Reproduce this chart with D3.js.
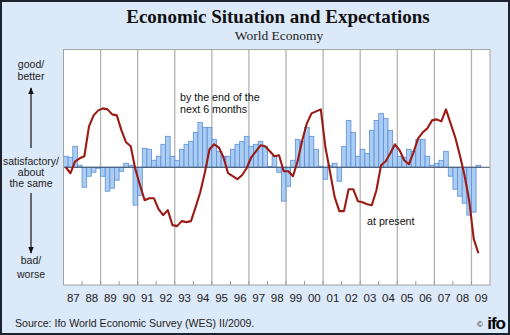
<!DOCTYPE html>
<html>
<head>
<meta charset="utf-8">
<script src="https://cdn.jsdelivr.net/npm/d3@7/dist/d3.min.js"></script>
<style>
  body { margin: 0; background: #fff; }
  svg { display: block; font-family: Arial, "Liberation Sans", sans-serif; }
</style>
</head>
<body>
<svg id="chart" width="510" height="335"></svg>
<script>
// tick labels (one per year) and first year of the quarterly series
var yearLabels = ["87","88","89","90","91","92","93","94","95","96","97","98",
                  "99","00","01","02","03","04","05","06","07","08","09"];
var firstYear = 1987;

// WES world economy, balance values, quarterly I/1987 .. II/2009
// expectations by the end of the next 6 months (bars)
var expectations = [
   11,  10,  21,   2,    // 1987
  -20,  -9,  -5,  -1,    // 1988
   -9, -24, -21, -13,    // 1989
   -4,   4,   2, -38,    // 1990
  -28,  19,  18,   7,    // 1991
   11,  23,  31,  11,    // 1992
    7,  18,  23,  26,    // 1993
   35,  45,  40,  40,    // 1994
   28,  16,  11,  11,    // 1995
   18,  23,  26,  31,    // 1996
   21,  23,  26,  21,    // 1997
    1,  11,  -5, -34,    // 1998
  -19,   7,  28,  26,    // 1999
   40,  31,  18,   1,    // 2000
  -12,   2,   4, -14,    // 2001
   21,  47,  35,  11,    // 2002
   18,  14,  37,  47,    // 2003
   54,  49,  37,  21,    // 2004
   11,  10,  18,  16,    // 2005
   28,  28,  11,   2,    // 2006
    4,   7,  16,  -9,    // 2007
  -22, -29, -36, -48,    // 2008
  -45,   2               // 2009
];

// present economic situation (line)
var present = [
    0,  -6,   6,   9,    // 1987
   11,  41,  52,  57,    // 1988
   59,  58,  53,  52,    // 1989
   37,  25,  21,  -2,    // 1990
  -18, -33, -31, -31,    // 1991
  -42, -48, -43, -58,    // 1992
  -59, -54, -55, -54,    // 1993
  -40, -25,  -5,  18,    // 1994
   23,  20,  10,  -6,    // 1995
   -9, -12,  -8,  -1,    // 1996
   10,  16,  22,  21,    // 1997
   16,  11,  12,  -4,    // 1998
   -4,  -9,   6,  27,    // 1999
   44,  54,  56,  58,    // 2000
   20,  -5, -30, -44,    // 2001
  -44, -22, -22, -34,    // 2002
  -35, -37, -38, -23,    // 2003
    2,   6,  14,  23,    // 2004
   17,   7,   3,  15,    // 2005
   29,  35,  39,  47,    // 2006
   48,  46,  58,  44,    // 2007
   30,  12,  -8, -33,    // 2008
  -72, -86               // 2009
];

var svg = d3.select("#chart"),
    W = 510, H = 335,
    plotL = 63.5, plotR = 490, plotT = 49.5, plotB = 285;

var lastYear = firstYear + yearLabels.length;
var x = d3.scaleLinear().domain([firstYear, lastYear]).range([plotL, plotR]),
    y = d3.scaleLinear().domain([-118, 118]).range([plotB, plotT]);

function qStart(i) { return firstYear + i / 4; }

// background + frame
svg.append("rect").attr("x", 1).attr("y", 1).attr("width", W - 2).attr("height", H - 2)
    .attr("fill", "#dce9f9").attr("stroke", "#1b2230").attr("stroke-width", 2);

// plot area
svg.append("rect").attr("x", plotL).attr("y", plotT)
    .attr("width", plotR - plotL).attr("height", plotB - plotT)
    .attr("fill", "#fff");

// vertical grid every 2 years
var gridYears = d3.range(firstYear + 2, lastYear, 2);
svg.append("g").selectAll("line").data(gridYears).enter().append("line")
    .attr("x1", function(d) { return x(d); }).attr("x2", function(d) { return x(d); })
    .attr("y1", plotT).attr("y2", plotB)
    .attr("stroke", "#b3b3b3").attr("stroke-width", 1.3);

// small ticks on every year at the bottom
svg.append("g").selectAll("line").data(d3.range(firstYear + 1, lastYear)).enter().append("line")
    .attr("x1", function(d) { return x(d); }).attr("x2", function(d) { return x(d); })
    .attr("y1", plotB).attr("y2", plotB - 4)
    .attr("stroke", "#9a9a9a").attr("stroke-width", 1);

// bars
svg.append("g").selectAll("rect").data(expectations).enter().append("rect")
    .attr("x", function(d, i) { return x(qStart(i)); })
    .attr("width", function(d, i) { return x(qStart(i + 1)) - x(qStart(i)); })
    .attr("y", function(d) { return y(Math.max(0, d)); })
    .attr("height", function(d) { return Math.abs(y(d) - y(0)); })
    .attr("fill", "#abcdf4")
    .attr("stroke", "#5d8fd3")
    .attr("stroke-width", 0.8);

// zero line
svg.append("line").attr("x1", plotL).attr("x2", plotR)
    .attr("y1", y(0)).attr("y2", y(0))
    .attr("stroke", "#3f4f66").attr("stroke-width", 1.2);

// present situation line
var line = d3.line()
    .x(function(d, i) { return x(qStart(i) + 0.125); })
    .y(function(d) { return y(d); });
svg.append("path").datum(present)
    .attr("d", line)
    .attr("fill", "none")
    .attr("stroke", "#9c1a14")
    .attr("stroke-width", 2.1)
    .attr("stroke-linejoin", "round");

// plot frame
svg.append("rect").attr("x", plotL).attr("y", plotT)
    .attr("width", plotR - plotL).attr("height", plotB - plotT)
    .attr("fill", "none").attr("stroke", "#a3a3a3").attr("stroke-width", 1);

// x axis labels at year centres
var xAxis = d3.axisBottom(x)
    .tickValues(d3.range(firstYear, lastYear).map(function(d) { return d + 0.5; }))
    .tickFormat(function(d) { return yearLabels[Math.floor(d) - firstYear]; })
    .tickSize(0)
    .tickPadding(9);
var gx = svg.append("g").attr("transform", "translate(0," + plotB + ")").call(xAxis);
gx.select(".domain").remove();
gx.selectAll("text").attr("font-size", 11.5).attr("fill", "#222")
    .attr("font-family", "Arial, 'Liberation Sans', sans-serif");

// titles
svg.append("text").attr("x", 278).attr("y", 23).attr("text-anchor", "middle")
    .attr("font-family", "'Times New Roman', 'Liberation Serif', serif")
    .attr("font-weight", "bold").attr("font-size", 19).attr("fill", "#111")
    .text("Economic Situation and Expectations");
svg.append("text").attr("x", 279).attr("y", 40).attr("text-anchor", "middle")
    .attr("font-family", "'Times New Roman', 'Liberation Serif', serif")
    .attr("font-size", 13.5).attr("fill", "#222")
    .text("World Economy");

// left scale description
var sideLabels = [["good/", 68], ["better", 80], ["satisfactory/", 164.5], ["about", 175.5],
                  ["the same", 187], ["bad/", 264], ["worse", 278]];
svg.append("g").selectAll("text").data(sideLabels).enter().append("text")
    .attr("x", 31).attr("y", function(d) { return d[1]; })
    .attr("text-anchor", "middle").attr("font-size", 10.5).attr("fill", "#222")
    .text(function(d) { return d[0]; });

svg.append("defs").append("marker")
    .attr("id", "arr").attr("viewBox", "0 0 10 10").attr("refX", 9).attr("refY", 5)
    .attr("markerWidth", 6).attr("markerHeight", 6).attr("orient", "auto")
    .append("path").attr("d", "M0,1L10,5L0,9Z").attr("fill", "#111");
svg.append("line").attr("x1", 31).attr("x2", 31).attr("y1", 148).attr("y2", 88)
    .attr("stroke", "#111").attr("stroke-width", 1.2).attr("marker-end", "url(#arr)");
svg.append("line").attr("x1", 31).attr("x2", 31).attr("y1", 193).attr("y2", 253)
    .attr("stroke", "#111").attr("stroke-width", 1.2).attr("marker-end", "url(#arr)");

// series annotations
svg.append("text").attr("x", 180).attr("y", 100.5).attr("font-size", 10.7).attr("fill", "#111")
    .text("by the end of the");
svg.append("text").attr("x", 180).attr("y", 113).attr("font-size", 10.7).attr("fill", "#111")
    .text("next 6 months");
svg.append("text").attr("x", 367).attr("y", 224.5).attr("font-size", 10.7).attr("fill", "#111")
    .text("at present");

// source + logo
svg.append("text").attr("x", 15).attr("y", 327).attr("font-size", 10.6).attr("fill", "#222")
    .text("Source: Ifo World Economic Survey (WES) II/2009.");
svg.append("text").attr("x", 480).attr("y", 327).attr("text-anchor", "middle")
    .attr("font-size", 8).attr("fill", "#111").text("\u00a9");
svg.append("text").attr("x", 505).attr("y", 329).attr("text-anchor", "end")
    .attr("font-size", 17).attr("font-weight", "900").attr("letter-spacing", -1)
    .attr("fill", "#000").text("ifo");
</script>
</body>
</html>
